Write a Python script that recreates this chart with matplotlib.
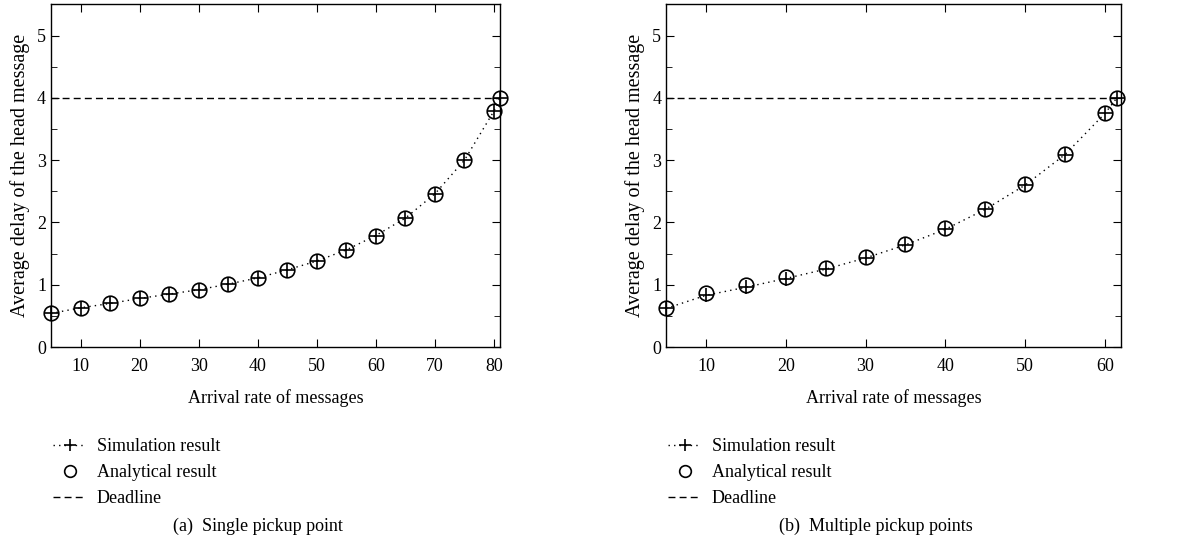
import matplotlib.pyplot as plt
from matplotlib.ticker import MultipleLocator

plt.rcParams['font.family'] = ['Liberation Serif', 'DejaVu Serif']

# (a) single pickup point
rate_a = [5, 10, 15, 20, 25, 30, 35, 40, 45, 50, 55, 60, 65, 70, 75, 80, 81]
sim_a = [0.54, 0.63, 0.70, 0.78, 0.85, 0.92, 1.01, 1.11, 1.24, 1.38, 1.56, 1.79, 2.07, 2.46, 3.00, 3.79, 4.00]
ana_a = [0.54, 0.63, 0.70, 0.78, 0.85, 0.92, 1.01, 1.11, 1.24, 1.38, 1.56, 1.79, 2.07, 2.46, 3.00, 3.79, 4.00]

# (b) multiple pickup points
rate_b = [5, 10, 15, 20, 25, 30, 35, 40, 45, 50, 55, 60, 61.5]
sim_b = [0.62, 0.83, 0.96, 1.10, 1.25, 1.43, 1.64, 1.89, 2.21, 2.60, 3.09, 3.75, 4.00]
ana_b = [0.63, 0.87, 0.99, 1.12, 1.27, 1.44, 1.66, 1.91, 2.22, 2.61, 3.10, 3.76, 4.00]

deadline = 4
captions = ['(a)  Single pickup point', '(b)  Multiple pickup points']

FS = 13


def draw_panel(fig, rect, rate, sim, ana, xmax, caption):
    ax = fig.add_axes(rect)
    ax.plot(rate, sim, color='black', linestyle=(0, (1, 3)), linewidth=1.0,
            marker='+', markersize=10, markeredgewidth=1.2, label='Simulation result',
            clip_on=False, zorder=3)
    ax.plot(rate, ana, linestyle='none', marker='o', markersize=10.5,
            markerfacecolor='none', markeredgecolor='black', markeredgewidth=1.2,
            label='Analytical result', clip_on=False, zorder=3)
    ax.axhline(deadline, color='black', linestyle=(0, (5, 3)), linewidth=1.0, label='Deadline')

    ax.set_xlim(5, xmax)
    ax.set_ylim(0, 5.5)
    ax.xaxis.set_major_locator(MultipleLocator(10))
    ax.yaxis.set_major_locator(MultipleLocator(1))
    ax.yaxis.set_minor_locator(MultipleLocator(0.5))
    ax.tick_params(which='both', direction='in', top=True, right=True, labelsize=FS, color='black')
    ax.tick_params(which='major', length=6)
    ax.tick_params(which='minor', length=4)
    ax.tick_params(axis='x', pad=8)
    for s in ax.spines.values():
        s.set_linewidth(1.0)
    ax.set_xlabel('Arrival rate of messages', fontsize=FS, labelpad=10)
    ax.set_ylabel('Average delay of the head message', fontsize=14.5, labelpad=5)

    x0 = rect[0]
    ax.legend(loc='upper left', bbox_to_anchor=(x0 - 0.004, 0.208), bbox_transform=fig.transFigure,
              frameon=False, fontsize=FS, handlelength=1.8, handletextpad=0.6,
              labelspacing=0.5, borderaxespad=0, markerscale=0.8)
    fig.text(rect[0] + rect[2] / 2 - 0.015, 0.033, caption, ha='center', va='center', fontsize=FS)
    return ax


fig = plt.figure(figsize=(11.94, 5.44), dpi=100)
draw_panel(fig, [0.0427, 0.362, 0.376, 0.630], rate_a, sim_a, ana_a, 81, captions[0])
draw_panel(fig, [0.5578, 0.362, 0.381, 0.630], rate_b, sim_b, ana_b, 62, captions[1])

fig.savefig('out.png', dpi=100)
